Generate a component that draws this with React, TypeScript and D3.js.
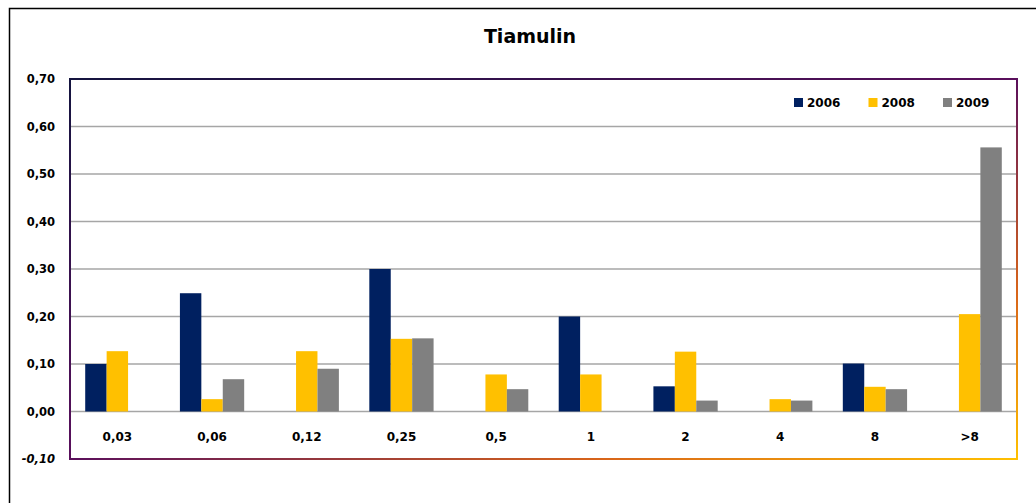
import React from "react";
import * as d3 from "d3";

const categories = ["0,03", "0,06", "0,12", "0,25", "0,5", "1", "2", "4", "8", ">8"];
const seriesNames = ["2006", "2008", "2009"];
const values2006 = [0.1, 0.249, 0, 0.3, 0, 0.2, 0.053, 0, 0.101, 0];
const values2008 = [0.127, 0.026, 0.127, 0.153, 0.078, 0.078, 0.126, 0.026, 0.052, 0.205];
const values2009 = [0, 0.068, 0.09, 0.154, 0.047, 0, 0.023, 0.023, 0.047, 0.556];
const yTicks = [-0.1, 0, 0.1, 0.2, 0.3, 0.4, 0.5, 0.6, 0.7];
const colors = ["#002060", "#FFC000", "#808080"];
const title = "Tiamulin";

const W = 1036;
const H = 503;
const plot = { left: 70, top: 79, right: 1017, bottom: 459 };

export default function App() {
  const seriesValues = [values2006, values2008, values2009];
  const y = d3.scaleLinear().domain([-0.1, 0.7]).range([plot.bottom, plot.top]);
  const x0 = d3.scaleBand<string>().domain(categories).range([plot.left, plot.right]).paddingInner(0).paddingOuter(0);
  const x1 = d3
    .scaleBand<string>()
    .domain(seriesNames)
    .range([0, x0.bandwidth()])
    .paddingInner(0)
    .paddingOuter(0.71);
  const fmt = (v: number) => d3.format(".2f")(v).replace(".", ",").replace("−", "-");
  const font = "'DejaVu Sans', Verdana, sans-serif";

  return (
    <svg
      width={W}
      height={H}
      style={{ position: "absolute", left: 0, top: 0, background: "#fff" }}
      fontFamily={font}
    >
      <defs>
        <linearGradient id="borderGrad" x1="0" y1="0" x2="1" y2="1">
          <stop offset="0" stopColor="#14143f" />
          <stop offset="0.5" stopColor="#5a0f5c" />
          <stop offset="0.78" stopColor="#d8641a" />
          <stop offset="1" stopColor="#ffc000" />
        </linearGradient>
      </defs>
      <rect x={0} y={0} width={W} height={H} fill="#fff" />
      <rect x={9.5} y={8.5} width={1100} height={700} fill="none" stroke="#000" strokeWidth={1.5} />
      <text x={530} y={43} textAnchor="middle" fontSize={19} fontWeight="bold" fill="#000">
        {title}
      </text>
      {yTicks
        .filter((t) => t > -0.1 + 1e-9 && t < 0.7 - 1e-9)
        .map((t) => (
          <line
            key={"g" + t}
            x1={plot.left}
            x2={plot.right}
            y1={y(t)}
            y2={y(t)}
            stroke="#a6a6a6"
            strokeWidth={1.5}
          />
        ))}
      {yTicks.map((t) => (
        <text
          key={"t" + t}
          x={55}
          y={y(t)}
          dy="0.35em"
          textAnchor="end"
          fontSize={11.5}
          fontWeight="bold"
          fontStyle={t < 0 ? "italic" : "normal"}
          fill="#000"
        >
          {fmt(t)}
        </text>
      ))}
      {categories.map((c, i) => (
        <g key={c} transform={`translate(${x0(c)},0)`}>
          {seriesNames.map((s, j) => {
            const v = seriesValues[j][i];
            if (!v) return null;
            return (
              <rect
                key={s}
                x={x1(s)}
                y={y(v)}
                width={x1.bandwidth()}
                height={y(0) - y(v)}
                fill={colors[j]}
              />
            );
          })}
          <text
            x={x0.bandwidth() / 2}
            y={437}
            dy="0.35em"
            textAnchor="middle"
            fontSize={12}
            fontWeight="bold"
            fill="#000"
          >
            {c}
          </text>
        </g>
      ))}
      {seriesNames.map((s, j) => (
        <g key={"l" + s} transform={`translate(${794 + j * 74.5},98)`}>
          <rect x={0} y={0} width={9} height={9} fill={colors[j]} />
          <text x={13} y={4.5} dy="0.35em" fontSize={12} fontWeight="bold" fill="#000">
            {s}
          </text>
        </g>
      ))}
      <rect
        x={plot.left}
        y={plot.top}
        width={plot.right - plot.left}
        height={plot.bottom - plot.top}
        fill="none"
        stroke="url(#borderGrad)"
        strokeWidth={2}
      />
    </svg>
  );
}
